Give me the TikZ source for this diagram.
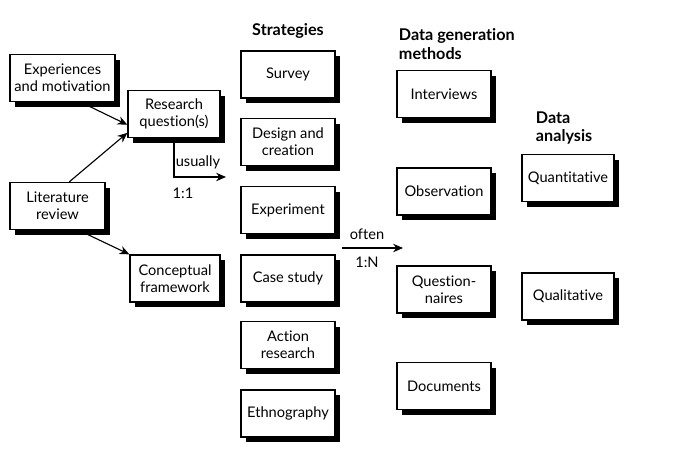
\documentclass[tikz,border=0pt]{standalone}
\usepackage{fontspec}
\setmainfont{Lato}[Ligatures=NoCommon]
\usetikzlibrary{arrows.meta,shadows}

\tikzset{
    box/.style={draw, line width=0.9pt, fill=white, align=center,
        minimum height=1.175cm, inner sep=2pt,
        drop shadow={shadow xshift=0.13cm, shadow yshift=-0.13cm, fill=black, opacity=1}},
    link/.style={line width=0.8pt, -{Stealth[length=7pt, width=6pt]}},
    head/.style={font=\fontsize{11.5}{13}\selectfont\bfseries, align=left, anchor=west}
}

\begin{document}
\begin{tikzpicture}[x=0.025cm, y=-0.025cm, font=\fontsize{10.4}{12}\selectfont]
        \useasboundingbox (0,0) rectangle (678,451);

        % Left part
        \node[box, minimum width=2.625cm] (exp) at (62.5,78) {Experiences\\and motivation};
        \node[box, minimum width=2.3cm] (rq) at (174,114) {Research\\question(s)};
        \node[box, minimum width=2.375cm] (lit) at (57.5,206) {Literature\\review};
        \node[box, minimum width=2.25cm] (cf) at (175,278.5) {Conceptual\\framework};

        \draw[link] (exp.-53) -- (rq.193);
        \draw[link] (lit.64) -- (rq.202);
        \draw[link] (lit.-49) -- (cf.north west);

        % usually 1:1
        \coordinate (u) at (226,177);
        \draw[link] (rq.south) |- (u);
        \node (usually) at (198,162) {usually};
        \node (oneone) at (183,193) {1:1};

        % Strategies
        \node[head, anchor=center] (strat) at (288,31) {Strategies};
        \node[box, minimum width=2.35cm] (survey) at (288,74.5) {Survey};
        \node[box, minimum width=2.35cm] (design) at (288,142) {Design and\\creation};
        \node[box, minimum width=2.35cm] (experiment) at (288,210) {Experiment};
        \node[box, minimum width=2.35cm] (case) at (288,278.5) {Case study};
        \node[box, minimum width=2.35cm] (action) at (288,345) {Action\\research};
        \node[box, minimum width=2.35cm] (ethno) at (288,413.5) {Ethnography};

        % often 1:N
        \coordinate (o1) at (342,248);
        \coordinate (o2) at (403,248);
        \draw[link] (o1) -- (o2);
        \node (often) at (367,234) {often};
        \node (onen) at (367,262) {1:N};

        % Data generation methods
        \node[head] (dgm) at (394,44) {Data generation\\methods};
        \node[box, minimum width=2.35cm] (interviews) at (444,94) {Interviews};
        \node[box, minimum width=2.35cm] (observation) at (444,191.5) {Observation};
        \node[box, minimum width=2.35cm] (quest) at (444,289.5) {Question-\\naires};
        \node[box, minimum width=2.35cm] (documents) at (444,386) {Documents};

        % Data analysis
        \node[head] (da) at (531,128) {Data\\analysis};
        \node[box, minimum width=2.3cm] (quant) at (568,178) {Quantitative};
        \node[box, minimum width=2.3cm] (qual) at (568,296.5) {Qualitative};
\end{tikzpicture}
\end{document}
